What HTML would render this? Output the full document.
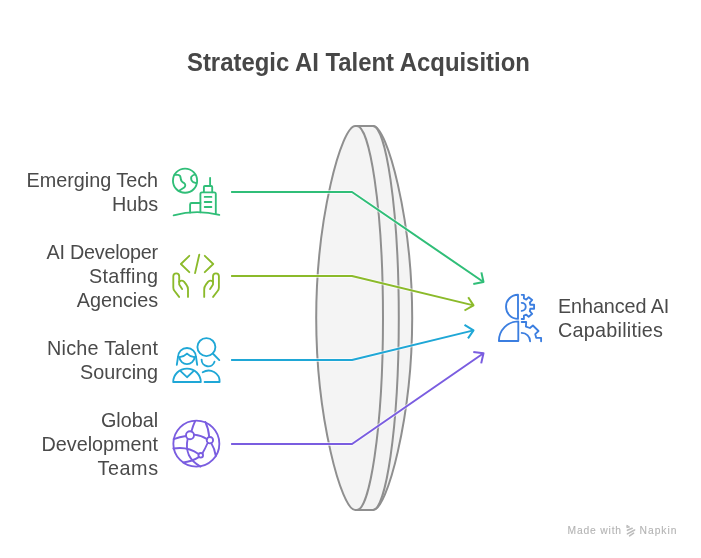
<!DOCTYPE html>
<html><head><meta charset="utf-8">
<style>
html,body{margin:0;padding:0;background:#fff;width:701px;height:558px;overflow:hidden}
svg{display:block}
text{font-family:"Liberation Sans",sans-serif}
.lbl{font-size:19.8px;fill:#4a4a4a}
.ttl{font-size:23.9px;font-weight:bold;fill:#474747}
.ic{fill:none;stroke-width:1.85;stroke-linecap:round;stroke-linejoin:round}
</style></head>
<body>
<svg style="will-change:transform" width="701" height="558" viewBox="0 0 701 558">
<!-- title -->
<text class="ttl" x="358.4" y="71" text-anchor="middle" transform="translate(0,71) scale(1,1.08) translate(0,-71)">Strategic AI Talent Acquisition</text>

<!-- lens -->
<g fill="#f4f4f4" stroke="#8f8f8f" stroke-width="2" stroke-linejoin="round">
  <path d="M355.20,126.00 L373.20,126.00 C386.90,126.00 412.10,217.70 412.20,318.00 C412.10,418.30 386.90,510.00 373.20,510.00 L355.20,510.00 C341.50,510.00 316.30,418.30 316.20,318.00 C316.30,217.70 341.50,126.00 355.20,126.00 Z"/>
  <path fill="none" d="M357,126 C369.2,126 383,204.5 383,318 C383,431.5 369.2,510 357,510"/>
  <path fill="none" d="M373,126 C385.2,126 398.8,204.5 398.8,318 C398.8,431.5 385.2,510 373,510"/>
</g>

<!-- connectors -->
<g fill="none" stroke-linejoin="round">
  <g stroke="#fff" stroke-width="3.8" stroke-opacity="0.6">
    <path d="M231.1,192 L352,192 L483.5,282"/>
    <path d="M231.1,276 L352,276 L473.5,305.4"/>
    <path d="M231.1,360 L352,360 L473.5,330.4"/>
    <path d="M231.1,444 L352,444 L483.5,353.2"/>
  </g>
  <g stroke-width="2">
    <path stroke="#30be78" d="M231.1,192 L352,192 L483.5,282"/>
    <path stroke="#8bba2a" d="M231.1,276 L352,276 L473.5,305.4"/>
    <path stroke="#1fa7d6" d="M231.1,360 L352,360 L473.5,330.4"/>
    <path stroke="#7a5de0" d="M231.1,444 L352,444 L483.5,353.2"/>
  </g>
  <g stroke-width="2" stroke-linecap="butt">
    <path stroke="#30be78" d="M481.4,272.4 L483.5,282 L473.3,283.9"/>
    <path stroke="#8bba2a" d="M468.2,297.3 L473.5,305.4 L464.5,310.5"/>
    <path stroke="#1fa7d6" d="M464.5,324.9 L473.5,330.4 L468,338.4"/>
    <path stroke="#7a5de0" d="M473.3,351.9 L483.5,353.2 L481.2,363.4"/>
  </g>
</g>

<!-- labels -->
<g class="lbl" text-anchor="end">
  <text x="158.1" y="187">Emerging Tech</text>
  <text x="158.1" y="210.6">Hubs</text>
  <text x="158.1" y="258.8" textLength="111.5">AI Developer</text>
  <text x="158.1" y="282.7" textLength="69.2">Staffing</text>
  <text x="158.1" y="306.7">Agencies</text>
  <text x="158.1" y="354.6" textLength="111">Niche Talent</text>
  <text x="158.1" y="379">Sourcing</text>
  <text x="158.1" y="427">Global</text>
  <text x="158.1" y="450.9">Development</text>
  <text x="158.1" y="474.7" textLength="60.7">Teams</text>
</g>
<g class="lbl">
  <text x="558" y="312.5" textLength="111.3">Enhanced AI</text>
  <text x="558" y="336.6" textLength="104.9">Capabilities</text>
</g>

<!-- icon 1: globe + buildings -->
<g class="ic" stroke="#30be78">
  <circle cx="185.05" cy="180.7" r="12.1"/>
  <path d="M174.6,174.9 L178.1,174.9 Q180.6,175.2 180.75,178.6 Q180.9,181.6 184.2,183.2 Q186.4,185.3 184.2,187.5 L179.1,190.7"/>
  <path d="M194.7,174.6 Q192.6,174.9 191.2,177 Q190.6,180.2 193.1,182.1 L196.3,183.2"/>
  <path d="M210.1,177.8 L210.1,186 M203.9,191.8 L203.9,187 Q203.9,186 204.9,186 L211.2,186 Q212.2,186 212.2,187 L212.2,192.2"/>
  <path d="M200.4,212.2 L200.4,194 Q200.4,192.4 202,192.4 L214.2,192.4 Q215.8,192.4 215.8,194 L215.8,213.8"/>
  <path d="M204.7,196.9 L211.4,196.9 M204.7,202 L211.4,202 M204.7,207 L211.4,207"/>
  <path d="M190.1,212.6 L190.1,204.5 Q190.1,203 191.6,203 L200.4,203"/>
  <path d="M173.6,215.3 Q196.4,209.1 219.3,214.9"/>
</g>

<!-- icon 2: code + hands -->
<g class="ic" stroke="#8bba2a">
  <path d="M189.3,255.8 L180.9,264 L189.3,272.2 M199.25,254.7 L195.05,273.1 M204.8,255.8 L213.2,264 L204.8,272.2"/>
  <path d="M179.1,296.9 L174.4,290.8 Q173.3,289.4 173.3,287.6 L173.3,276.3 A2.95,2.95 0 0 1 179.2,276.3 L179.2,284.6 L182.1,289.1"/>
  <path d="M179.2,281.8 Q181.6,279.6 184,281.6 L186.3,284.6 Q188,286.8 188,289.3 L188,296.9"/>
  <g transform="translate(392.2,0) scale(-1,1)">
  <path d="M179.1,296.9 L174.4,290.8 Q173.3,289.4 173.3,287.6 L173.3,276.3 A2.95,2.95 0 0 1 179.2,276.3 L179.2,284.6 L182.1,289.1"/>
  <path d="M179.2,281.8 Q181.6,279.6 184,281.6 L186.3,284.6 Q188,286.8 188,289.3 L188,296.9"/>
  </g>
</g>

<!-- icon 3: people + magnifier -->
<g class="ic" stroke="#1fa7d6">
  <circle cx="206.4" cy="347.1" r="9"/>
  <path d="M212.8,353.5 L219.3,360.1"/>
  <path d="M201.6,359.6 A6.6,6.6 0 0 0 214.5,361.7"/>
  <path d="M202.7,372.3 A11,11 0 0 1 219.6,382 L204.6,382"/>
  <path d="M176.8,364.8 L178,357 A9,9 0 1 1 196,357 L197.2,364.8"/>
  <path d="M179.6,357.2 Q183.5,357 187,353.6 Q190.5,357 194.4,357.2"/>
  <path d="M179.3,357.2 A7.75,7.75 0 0 0 194.7,357.2"/>
  <path d="M173.2,382 A13.8,13.4 0 0 1 200.8,382 Z"/>
  <path d="M180.3,370.9 L187,377.2 L193.8,370.9"/>
</g>

<!-- icon 4: network globe -->
<g class="ic" stroke="#7a5de0">
  <circle cx="196.35" cy="443.65" r="23"/>
  <circle cx="190" cy="435.2" r="4"/>
  <circle cx="209.9" cy="440.2" r="3.2"/>
  <circle cx="200.75" cy="455.3" r="2.3"/>
  <path d="M191.4,431.4 Q192.9,425.8 195.2,421"/>
  <path d="M186,436 Q179.5,436.8 173.7,439.2"/>
  <path d="M194,434.7 Q201.5,435.5 206.8,439"/>
  <path d="M187.6,439.2 Q185.7,447.5 188.8,455 Q192.3,462 200.5,466.6"/>
  <path d="M209.2,437 Q208.6,428.5 205.3,422"/>
  <path d="M211.3,443.2 Q214.7,448.5 215.8,456"/>
  <path d="M207.6,443 Q205.3,448.5 202.3,453.4"/>
  <path d="M173.4,448.5 Q188,446.2 198.5,454"/>
  <path d="M198.8,457.1 Q191.5,461.8 183.2,462.4"/>
</g>

<!-- icon 5: person + gears -->
<g class="ic" stroke="#3b7ee0" stroke-width="1.85">
  <path d="M518,294.7 L518,318.9 A12,12.1 0 0 1 518,294.7 Z"/>
  <path d="M518.3,321.4 L518.3,341 L498.9,341 A19.4,19.6 0 0 1 518.3,321.4 Z"/>
  <path d="M521.7,294.8 L523.9,294.8 L523.9,298.5 L526.3,299.6 L528.7,297.2 L532.2,299.9 L529.8,302.6 L530.3,304.7 L534.1,304.7 L534.1,308.7 L530.3,308.7 L529.8,311.2 L532.2,313.8 L528.7,316.8 L526.3,314.7 L523.9,315.7 L523.9,319 L521.7,319"/>
  <path d="M521.7,302.8 A4.05,4.05 0 0 1 521.7,310.9"/>
  <path d="M521.7,322 L526.2,322 L525.9,326.6 L529.9,328 L532.9,325.5 L538.5,331 L535.2,334.1 L536.2,337.8 L541.1,337.8 L541.1,341.3"/>
  <path d="M521.7,332.9 A8.4,8.4 0 0 1 530.1,341.3"/>
</g>

<!-- footer -->
<g style="font-size:10.3px;fill:#b4b4b4;stroke:#b4b4b4;stroke-width:0.12">
  <text x="567.6" y="534.1" letter-spacing="0.82">Made with</text>
  <text x="639.6" y="534.1" letter-spacing="0.95">Napkin</text>
</g>
<g fill="none" stroke="#bcbcbc" stroke-width="1.6" stroke-linecap="round">
  <path d="M627.4,530.3 L632.2,528.3 M627.4,533.9 L634.6,530 M629.6,535.9 L633.6,533.2"/>
  <path fill="#bcbcbc" stroke-width="1" stroke-linejoin="round" d="M627.2,525.4 L629.6,527 L627.2,527.6 Z"/>
</g>
</svg>
</body></html>
